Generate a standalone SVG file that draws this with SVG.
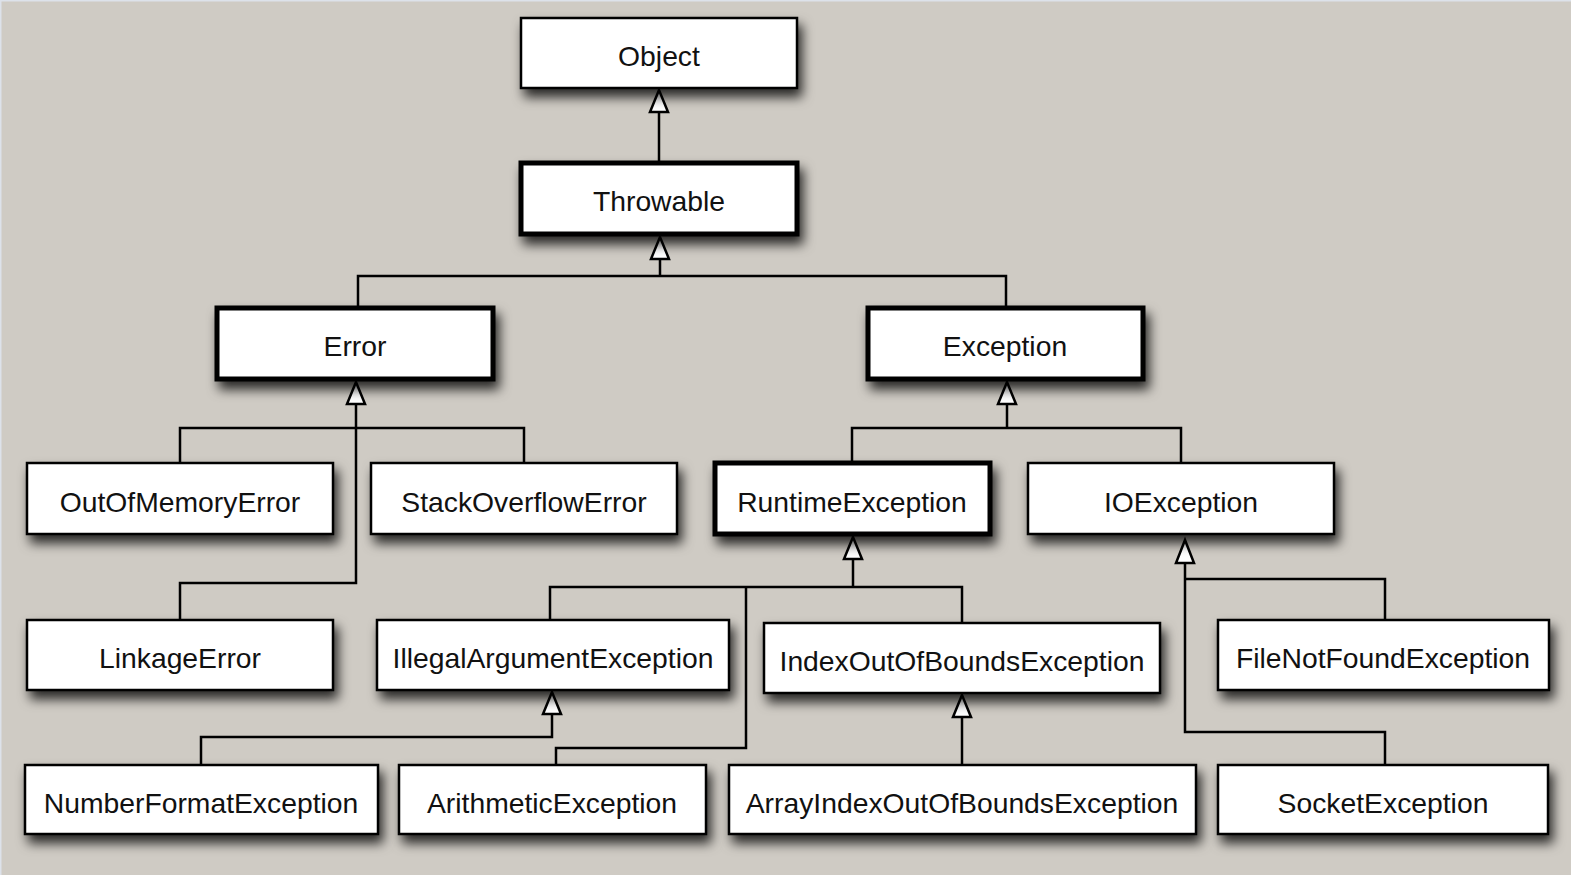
<svg xmlns="http://www.w3.org/2000/svg" width="1571" height="875" viewBox="0 0 1571 875">
<defs>
<style>
.box{fill:#fff;stroke:#000;stroke-width:2.5;filter:url(#sh)}
.bold{stroke-width:5}
.lbl{font-family:"Liberation Sans",Arial,Helvetica,sans-serif;font-size:28.3px;fill:#111;text-anchor:middle}
.conn{fill:none;stroke:#000;stroke-width:2.5;stroke-linejoin:miter}
.arr{fill:#fff;stroke:#000;stroke-width:2.5;stroke-linejoin:miter}
</style>
<filter id="sh" x="-10%" y="-30%" width="125%" height="180%">
<feDropShadow dx="4" dy="8" stdDeviation="6" flood-color="#000" flood-opacity="0.8"/>
</filter>
</defs>
<rect x="0" y="0" width="1571" height="875" fill="#cfcbc4"/>
<path d="M0.5 875 V0.5 H1571" fill="none" stroke="#dde2ea" stroke-width="2"/>

<g id="connectors">
<path class="conn" d="M659 162 V112"/>
<path class="conn" d="M358 307 V276 H1006 V307 M660 276 V259"/>
<path class="conn" d="M356 404 V583 H180 V620 M180 463 V428 H524 V463"/>
<path class="conn" d="M1007 404 V428 M852 462 V428 H1181 V463"/>
<path class="conn" d="M853 559 V587 M550 620 V587 H962 V623 M746 587 V748 H556 V765"/>
<path class="conn" d="M552 714 V737 H201 V765"/>
<path class="conn" d="M962 717 V765"/>
<path class="conn" d="M1185 563 V732 H1385 V765 M1185 579 H1385 V620"/>
<polygon class="arr" points="659,90 650,112 668,112"/>
<polygon class="arr" points="660,237 651,259 669,259"/>
<polygon class="arr" points="356,382 347,404 365,404"/>
<polygon class="arr" points="1007,382 998,404 1016,404"/>
<polygon class="arr" points="853,537 844,559 862,559"/>
<polygon class="arr" points="1185,540 1176,563 1194,563"/>
<polygon class="arr" points="552,692 543,714 561,714"/>
<polygon class="arr" points="962,695 953,717 971,717"/>
</g>

<g id="Object"><rect class="box" x="521" y="18" width="276" height="70"/><text class="lbl" x="659" y="66">Object</text></g>
<g id="Throwable"><rect class="box bold" x="521" y="163" width="276" height="71"/><text class="lbl" x="659" y="211">Throwable</text></g>
<g id="Error"><rect class="box bold" x="217" y="308" width="276" height="71"/><text class="lbl" x="355" y="356">Error</text></g>
<g id="Exception"><rect class="box bold" x="868" y="308" width="275" height="71"/><text class="lbl" x="1005" y="356">Exception</text></g>
<g id="OutOfMemoryError"><rect class="box" x="27" y="463" width="306" height="71"/><text class="lbl" x="180" y="512">OutOfMemoryError</text></g>
<g id="StackOverflowError"><rect class="box" x="371" y="463" width="306" height="71"/><text class="lbl" x="524" y="512">StackOverflowError</text></g>
<g id="RuntimeException"><rect class="box bold" x="715" y="463" width="275" height="71"/><text class="lbl" x="852" y="512">RuntimeException</text></g>
<g id="IOException"><rect class="box" x="1028" y="463" width="306" height="71"/><text class="lbl" x="1181" y="512">IOException</text></g>
<g id="LinkageError"><rect class="box" x="27" y="620" width="306" height="70"/><text class="lbl" x="180" y="668">LinkageError</text></g>
<g id="IllegalArgumentException"><rect class="box" x="377" y="620" width="352" height="70"/><text class="lbl" x="553" y="668">IllegalArgumentException</text></g>
<g id="IndexOutOfBoundsException"><rect class="box" x="764" y="623" width="396" height="70"/><text class="lbl" x="962" y="671">IndexOutOfBoundsException</text></g>
<g id="FileNotFoundException"><rect class="box" x="1218" y="620" width="331" height="70"/><text class="lbl" x="1383" y="668">FileNotFoundException</text></g>
<g id="NumberFormatException"><rect class="box" x="25" y="765" width="353" height="69"/><text class="lbl" x="201" y="813">NumberFormatException</text></g>
<g id="ArithmeticException"><rect class="box" x="399" y="765" width="307" height="69"/><text class="lbl" x="552" y="813">ArithmeticException</text></g>
<g id="ArrayIndexOutOfBoundsException"><rect class="box" x="729" y="765" width="467" height="69"/><text class="lbl" x="962" y="813">ArrayIndexOutOfBoundsException</text></g>
<g id="SocketException"><rect class="box" x="1218" y="765" width="330" height="69"/><text class="lbl" x="1383" y="813">SocketException</text></g>
</svg>
